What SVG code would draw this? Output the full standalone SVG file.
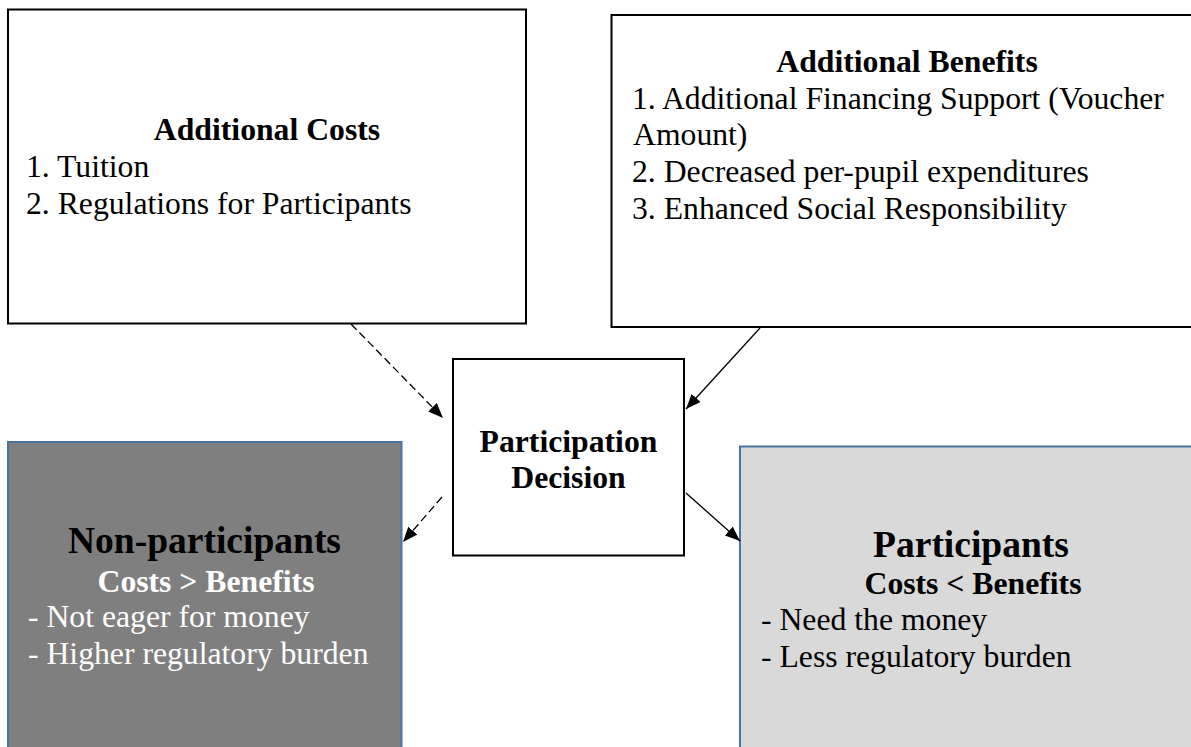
<svg xmlns="http://www.w3.org/2000/svg" width="1191" height="747" viewBox="0 0 1191 747">
  <defs>
    <marker id="arrow" markerUnits="userSpaceOnUse" markerWidth="16" markerHeight="12" refX="15" refY="6" orient="auto">
      <path d="M0,0 L15,6 L0,12 z" fill="#000" stroke="none"/>
    </marker>
    <style>
      .box { fill: #fff; stroke: #000; stroke-width: 2; }
      .dark { fill: #7f7f7f; stroke: #4a74a0; stroke-width: 2; }
      .light { fill: #d9d9d9; stroke: #4a74a0; stroke-width: 2; }
      text { font-family: "Liberation Serif", "Times New Roman", serif; font-size: 31.7px; fill: #000; }
      .b { font-weight: bold; }
      .mid { text-anchor: middle; }
      .big { font-size: 37.5px; }
      .w { fill: #fff; }
      .link { fill: none; stroke: #000; stroke-width: 1.3; marker-end: url(#arrow); }
      .dash { stroke-dasharray: 8 4; }
    </style>
  </defs>

  <g id="additional-costs">
    <rect class="box" x="8" y="9.5" width="518" height="314"/>
    <text class="b mid" x="267" y="140">Additional Costs</text>
    <text x="26" y="177">1. Tuition</text>
    <text x="26" y="213.5">2. Regulations for Participants</text>
  </g>

  <g id="additional-benefits">
    <path class="box" d="M1195,15 L611.5,15 L611.5,327 L1195,327"/>
    <text class="b mid" x="907" y="72">Additional Benefits</text>
    <text x="632" y="108.5">1. Additional Financing Support (Voucher</text>
    <text x="633" y="145">Amount)</text>
    <text x="632" y="182">2. Decreased per-pupil expenditures</text>
    <text x="632" y="218.5">3. Enhanced Social Responsibility</text>
  </g>

  <g id="participation-decision">
    <rect class="box" x="453" y="359" width="231" height="196.5"/>
    <text class="b mid" x="568.5" y="452">Participation</text>
    <text class="b mid" x="568.5" y="488">Decision</text>
  </g>

  <g id="non-participants">
    <rect class="dark" x="8" y="442" width="393.5" height="320"/>
    <text class="b mid big" x="204.5" y="553">Non-participants</text>
    <text class="b mid w" x="206" y="592">Costs &gt; Benefits</text>
    <text class="w" x="28" y="627">- Not eager for money</text>
    <text class="w" x="28" y="663.5">- Higher regulatory burden</text>
  </g>

  <g id="participants">
    <rect class="light" x="740" y="446.5" width="470" height="320"/>
    <text class="b mid big" x="971" y="557">Participants</text>
    <text class="b mid" x="973" y="594">Costs &lt; Benefits</text>
    <text x="761" y="630">- Need the money</text>
    <text x="761" y="667">- Less regulatory burden</text>
  </g>

  <g id="connectors">
    <line class="link dash" x1="351" y1="324" x2="443" y2="418"/>
    <line class="link" x1="760" y1="328" x2="686" y2="409"/>
    <line class="link dash" x1="442" y1="497" x2="403" y2="542"/>
    <line class="link" x1="686" y1="493" x2="740" y2="541"/>
  </g>
</svg>
